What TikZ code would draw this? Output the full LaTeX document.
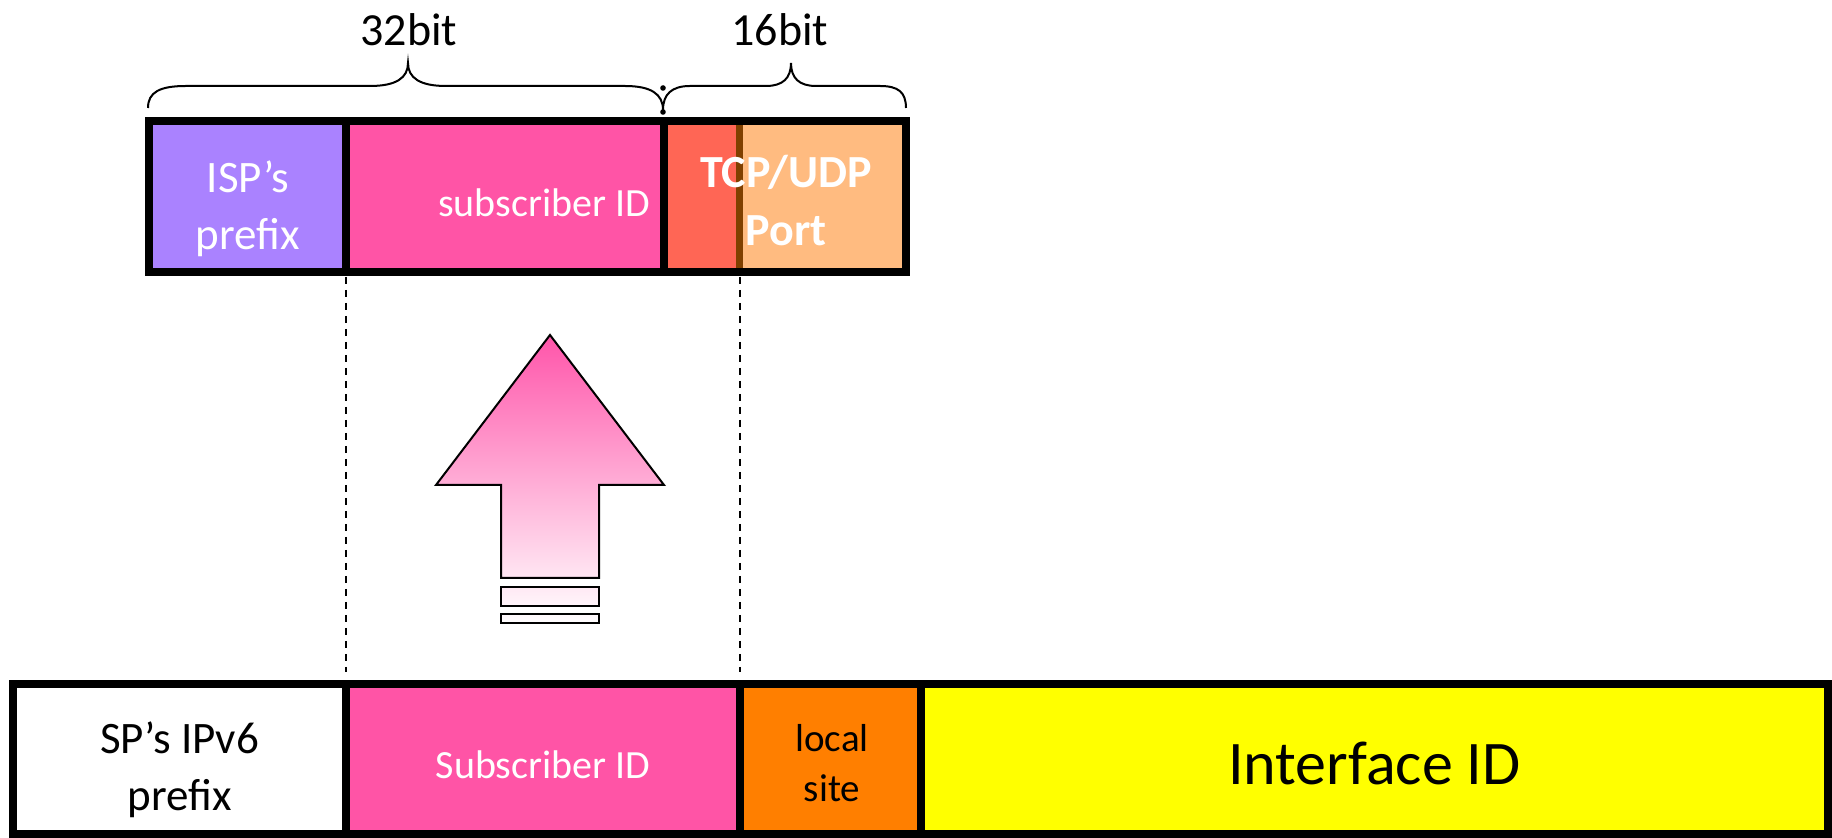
\documentclass[tikz,border=0pt]{standalone}
\usepackage{fontspec}
\setmainfont{Carlito}
\usetikzlibrary{fit}

\definecolor{ispPurple}{RGB}{170,130,255}
\definecolor{subPink}{RGB}{255,84,166}
\definecolor{portRed}{RGB}{255,102,85}
\definecolor{portTan}{RGB}{255,187,128}
\definecolor{portBrown}{RGB}{128,64,0}
\definecolor{siteOrange}{RGB}{255,127,0}
\definecolor{ifYellow}{RGB}{255,255,0}
\definecolor{arrowPink}{RGB}{255,85,170}

\begin{document}
\begin{tikzpicture}[x=0.5pt,y=-0.5pt,
  field/.style={draw=black, line width=4pt, inner sep=0pt, outer sep=0pt},
  lbl/.style={inner sep=0pt, align=center},
  brace/.style={draw=black, line width=1pt},
  guide/.style={draw=black, line width=1pt, dash pattern=on 3.5pt off 3pt},
  outlined/.style={draw=black, line width=1pt, line join=miter}]

\useasboundingbox[fill=white] (0,0) rectangle (1832,838);

% ---- upper address: ISP prefix | subscriber ID | port ----
\node[field, fill=ispPurple, fit={(149,121.5) (345.5,272.5)}] (isp) {};
\node[field, fill=subPink, fit={(345.5,121.5) (664,272.5)}] (subTop) {};
\fill[portTan] (664,121.5) rectangle (905.5,272.5);
\fill[portRed] (664,121.5) rectangle (739.5,272.5);
\draw[portBrown, line width=3.5pt] (739.5,125.5) -- (739.5,268.5);
\node[field, fit={(664,121.5) (905.5,272.5)}] (tcp) {};

\node[lbl, text=white, font=\fontsize{22.5}{28.5}\selectfont] (ispText) at (248,208.5) {ISP’s\\prefix};
\node[lbl, text=white, font=\fontsize{20}{24}\selectfont] (subTopText) at (544,203) {subscriber ID};
\node[lbl, text=white, font=\bfseries\fontsize{23}{29}\selectfont] (tcpText) at (786,200.5) {TCP/UDP\\Port};

% ---- bit-width braces ----
\draw[brace] (148,108) .. controls (148,92) and (160,86) .. (186,86) -- (370,86)
  .. controls (396,86) and (408,78) .. (408,63)
  .. controls (408,78) and (420,86) .. (446,86) -- (625,86)
  .. controls (651,86) and (663,94) .. (663,110);
\draw[brace] (663,110) .. controls (663,94) and (672,86) .. (690,86) -- (766,86)
  .. controls (783,86) and (791,78) .. (791,63)
  .. controls (791,78) and (799,86) .. (816,86) -- (880,86)
  .. controls (898,86) and (906,92) .. (906,108);
\fill (663,88) circle[radius=1.4pt];
\fill (663,112) circle[radius=1.4pt];
\node[lbl, font=\fontsize{23}{28}\selectfont] (bits32) at (409,30) {32bit};
\node[lbl, font=\fontsize{23}{28}\selectfont] (bits16) at (780,30) {16bit};

% ---- lower address: SP prefix | subscriber ID | local site | interface ID ----
\node[field, fill=white, fit={(13,684) (346,834.5)}] (spPrefix) {};
\node[field, fill=subPink, fit={(346,684) (739.5,834.5)}] (subBottom) {};
\node[field, fill=siteOrange, fit={(739.5,684) (921,834.5)}] (localSite) {};
\node[field, fill=ifYellow, fit={(921,684) (1828,834.5)}] (ifaceId) {};

\node[lbl, font=\fontsize{22.5}{28.5}\selectfont] (spText) at (179.5,770) {SP’s IPv6\\prefix};
\node[lbl, text=white, font=\fontsize{20}{24}\selectfont] (subBottomText) at (543,764.5) {Subscriber ID};
\node[lbl, font=\fontsize{19.5}{25}\selectfont] (siteText) at (832,763.5) {local\\site};
\node[lbl, font=\fontsize{31}{37}\selectfont] (ifaceText) at (1374.5,763) {Interface ID};

% ---- alignment guides ----
\draw[guide, shorten <=2.25pt, shorten >=6pt] (isp.south east) -- (isp.south east |- subBottom.north);
\draw[guide, shorten <=2.25pt, shorten >=6pt] (subBottom.north east |- tcp.south) -- (subBottom.north east);

% ---- mapping arrow ----
\draw[outlined, top color=arrowPink, bottom color=arrowPink!15]
  (550,335) -- (664,485) -- (599,485) -- (599,578) -- (501,578) -- (501,485) -- (436,485) -- cycle;
\draw[outlined, top color=arrowPink!13, bottom color=arrowPink!6] (501,587) rectangle (599,606);
\draw[outlined, top color=arrowPink!4, bottom color=arrowPink!1] (501,614) rectangle (599,623);

\end{tikzpicture}
\end{document}
